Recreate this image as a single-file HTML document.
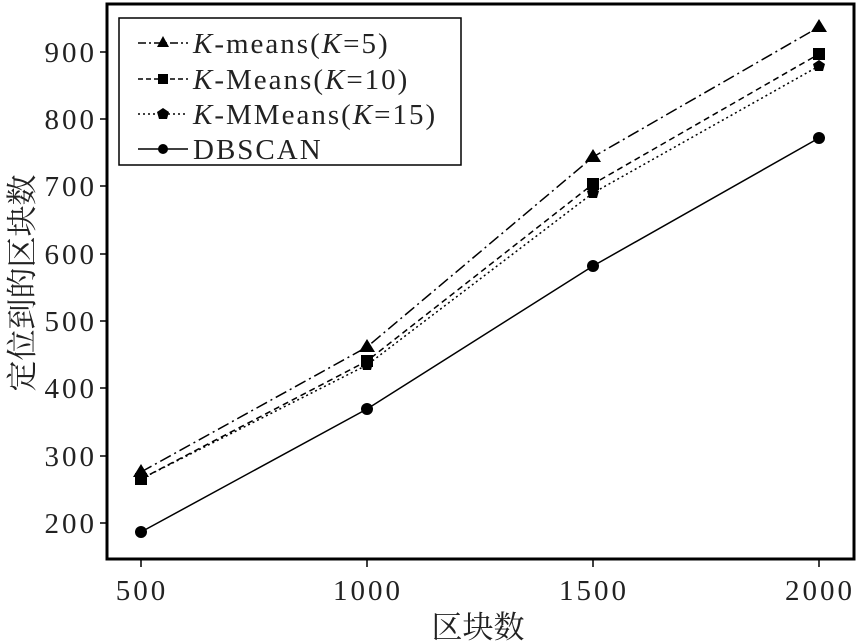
<!DOCTYPE html><html><head><style>body{margin:0;background:#fff}svg{display:block}text{font-family:"Liberation Serif","Noto Serif CJK SC",serif;fill:#222}</style></head><body>
<svg width="859" height="642" viewBox="0 0 859 642">
<rect x="107" y="4" width="747" height="555" fill="none" stroke="#000" stroke-width="3"/>
<g stroke="#000" stroke-width="1.5">
<line x1="141" y1="559" x2="141" y2="567"/><line x1="367" y1="559" x2="367" y2="567"/><line x1="593" y1="559" x2="593" y2="567"/><line x1="819" y1="559" x2="819" y2="567"/>
<line x1="100" y1="523" x2="107" y2="523"/><line x1="100" y1="456" x2="107" y2="456"/><line x1="100" y1="388" x2="107" y2="388"/><line x1="100" y1="321" x2="107" y2="321"/><line x1="100" y1="254" x2="107" y2="254"/><line x1="100" y1="186" x2="107" y2="186"/><line x1="100" y1="119" x2="107" y2="119"/><line x1="100" y1="52" x2="107" y2="52"/>
</g>
<g font-size="29" text-anchor="end" letter-spacing="3">
<text x="97" y="533">200</text><text x="97" y="466">300</text><text x="97" y="398">400</text><text x="97" y="331">500</text><text x="97" y="264">600</text><text x="97" y="196">700</text><text x="97" y="129">800</text><text x="97" y="62">900</text>
</g>
<g font-size="29" text-anchor="middle" letter-spacing="3">
<text x="142" y="600">500</text><text x="368" y="600">1000</text><text x="594" y="600">1500</text><text x="820" y="600">2000</text>
</g>
<text x="478" y="638" font-size="31" text-anchor="middle">区块数</text>
<text transform="translate(33,283) rotate(-90)" font-size="31" text-anchor="middle">定位到的区块数</text>
<g fill="none" stroke="#000" stroke-width="1.5">
<polyline stroke-dasharray="12,4,2,4" points="141,472 367,347 593,157 819,27"/>
<polyline stroke-dasharray="6,4" points="141,479 367,361 593,184 819,54"/>
<polyline stroke-dasharray="2,3" points="141,479 367,365 593,193 819,66"/>
<polyline points="141,532 367,409 593,266 819,138"/>
</g>
<g fill="#000">
<polygon points="141,464 149,477 133,477"/><polygon points="367,339 375,352 359,352"/><polygon points="593,149 601,162 585,162"/><polygon points="819,19 827,32 811,32"/>
<rect x="135" y="473" width="12" height="12"/><rect x="361" y="355" width="12" height="12"/><rect x="587" y="178" width="12" height="12"/><rect x="813" y="48" width="12" height="12"/>
<polygon points="141,473 147,477 145,484 137,484 135,477"/><polygon points="367,359 373,363 371,370 363,370 361,363"/><polygon points="593,187 599,191 597,198 589,198 587,191"/><polygon points="819,60 825,64 823,71 815,71 813,64"/>
<circle cx="141" cy="532" r="6"/><circle cx="367" cy="409" r="6"/><circle cx="593" cy="266" r="6"/><circle cx="819" cy="138" r="6"/>
</g>
<rect x="119" y="18" width="342" height="147" fill="#fff" stroke="#000" stroke-width="1.5"/>
<g stroke="#000" stroke-width="1.5">
<line x1="138" y1="43" x2="188" y2="43" stroke-dasharray="8,3,2,3"/>
<line x1="138" y1="79" x2="188" y2="79" stroke-dasharray="5,3"/>
<line x1="138" y1="114" x2="188" y2="114" stroke-dasharray="2,3"/>
<line x1="138" y1="149" x2="188" y2="149"/>
</g>
<g fill="#000">
<polygon points="163,36 169,47 157,47"/><rect x="158" y="74" width="10" height="10"/><polygon points="163,108 169,112 167,119 159,119 157,112"/><circle cx="163" cy="149" r="5"/>
</g>
<g font-size="29" letter-spacing="2">
<text x="193" y="53"><tspan font-style="italic">K</tspan>-means(<tspan font-style="italic">K</tspan>=5)</text>
<text x="193" y="89"><tspan font-style="italic">K</tspan>-Means(<tspan font-style="italic">K</tspan>=10)</text>
<text x="193" y="124"><tspan font-style="italic">K</tspan>-MMeans(<tspan font-style="italic">K</tspan>=15)</text>
<text x="193" y="159">DBSCAN</text>
</g>
</svg></body></html>
